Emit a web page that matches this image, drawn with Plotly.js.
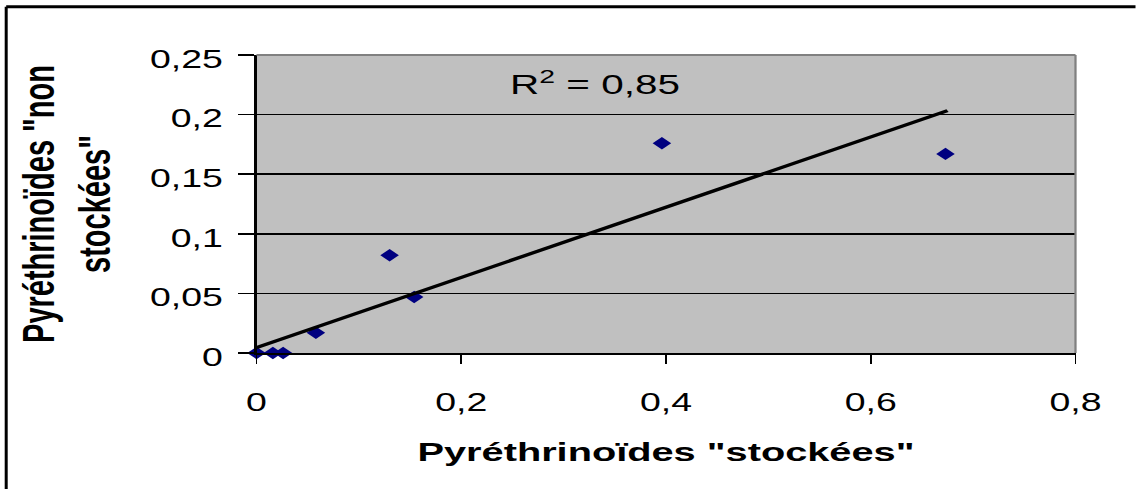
<!DOCTYPE html>
<html>
<head>
<meta charset="utf-8">
<script src="https://cdn.plot.ly/plotly-3.0.1.min.js"></script>
<style>
html, body { margin: 0; padding: 0; background: #ffffff; overflow: hidden; }
#wrap { width: 1136px; height: 489px; overflow: hidden; position: relative; }
#chart { width: 757.333px; height: 489px; transform: scaleX(1.5); transform-origin: 0 0; }
</style>
</head>
<body>
<div id="wrap"><div id="chart"></div></div>
<script>
// ---- data ----
const xStored = [0, 0.016, 0.026, 0.058, 0.130, 0.154, 0.396, 0.673];
const yNonStored = [0, 0, 0, 0.017, 0.082, 0.047, 0.176, 0.167];
const trendX = [0, 0.675];
const trendY = [0.0045, 0.2033];
const xTickVals = [0, 0.2, 0.4, 0.6, 0.8];
const xTickText = ['0', '0,2', '0,4', '0,6', '0,8'];
const yTickVals = [0, 0.05, 0.1, 0.15, 0.2, 0.25];
const yTickText = ['0', '0,05', '0,1', '0,15', '0,2', '0,25'];
const xTitle = 'Pyréthrinoïdes "stockées"';
const yTitle = 'Pyréthrinoïdes "non<br>stockées"';
const r2Label = 'R<sup>2</sup> = 0,85';

// ---- layout geometry (the picture is stretched horizontally) ----
const S = 1.5;
const W = 1136 / S, H = 489;
const L = 257 / S, R = W - 1076 / S, T = 55, B = H - 353.5;
const PW = W - L - R, PH = H - T - B;
const px = v => (v / S - L) / PW;     // real pixel x -> paper
const py = v => (H - B - v) / PH;     // real pixel y -> paper
const FONT = 'Liberation Sans, Arial, sans-serif';

const traces = [
  {
    type: 'scatter', mode: 'markers',
    x: xStored, y: yNonStored,
    marker: { symbol: 'diamond', size: 9.5, color: '#000080', line: { width: 0 } },
    cliponaxis: false, showlegend: false, hoverinfo: 'x+y'
  },
  {
    type: 'scatter', mode: 'lines',
    x: trendX, y: trendY,
    line: { color: '#000000', width: 3.2 },
    cliponaxis: false, showlegend: false, hoverinfo: 'skip'
  }
];

const layout = {
  width: W, height: H,
  margin: { l: L, r: R, t: T, b: B, autoexpand: false },
  paper_bgcolor: '#ffffff',
  plot_bgcolor: '#c0c0c0',
  separators: ', ',
  showlegend: false,
  font: { family: FONT, color: '#000000' },
  xaxis: {
    range: [0, 0.8], fixedrange: true,
    tickmode: 'array', tickvals: xTickVals, ticktext: xTickText,
    ticks: 'outside', ticklen: 9, tickwidth: 1.3, tickcolor: '#000000',
    ticklabelstandoff: 17,
    showline: true, linecolor: '#000000', linewidth: 2,
    showgrid: false, zeroline: false,
    tickfont: { family: FONT, size: 25, color: '#000000' },
    automargin: false,
    title: { text: xTitle, standoff: 27, font: { family: FONT, size: 26.5, weight: 'bold', color: '#000000' } }
  },
  yaxis: {
    range: [0, 0.25], fixedrange: true,
    tickmode: 'array', tickvals: yTickVals, ticktext: yTickText,
    ticks: 'outside', ticklen: 11, tickwidth: 1.5, tickcolor: '#000000',
    ticklabelstandoff: 5, ticklabelshift: 4,
    showline: true, linecolor: '#000000', linewidth: 1.4,
    showgrid: true, gridcolor: '#000000', gridwidth: 1.5,
    zeroline: false,
    tickfont: { family: FONT, size: 25, color: '#000000' },
    automargin: false,
    title: { text: yTitle, standoff: 17, font: { family: FONT, size: 29, weight: 'bold', color: '#000000' } }
  },
  shapes: [
    // plot-area border (top and right, grey)
    { type: 'line', xref: 'paper', yref: 'paper', x0: 0, x1: 1, y0: 1, y1: 1, line: { color: '#808080', width: 2 }, layer: 'above' },
    { type: 'line', xref: 'paper', yref: 'paper', x0: 1, x1: 1, y0: 0, y1: 1, line: { color: '#808080', width: 1.5 }, layer: 'above' },
    // outer chart frame (clipped at the right and bottom in the picture)
    { type: 'line', xref: 'paper', yref: 'paper', x0: px(6.7), x1: px(6.7), y0: py(6.7), y1: py(600), line: { color: '#000000', width: 2 }, layer: 'above' },
    { type: 'line', xref: 'paper', yref: 'paper', x0: px(6.7), x1: px(1300), y0: py(6.7), y1: py(6.7), line: { color: '#000000', width: 3 }, layer: 'above' }
  ],
  annotations: [
    {
      text: r2Label, xref: 'x', yref: 'y', x: 0.331, y: 0.2265,
      xanchor: 'center', yanchor: 'middle', showarrow: false,
      font: { family: FONT, size: 27, color: '#000000' }
    }
  ]
};

Plotly.newPlot('chart', traces, layout, { displayModeBar: false, staticPlot: true });
</script>
</body>
</html>
